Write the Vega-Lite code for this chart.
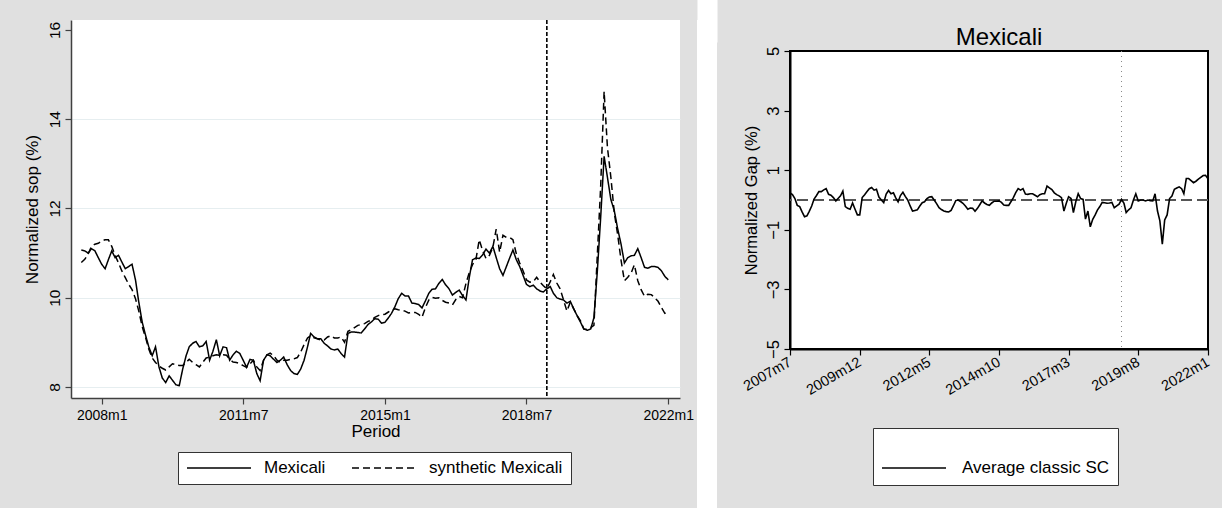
{
  "$schema": "https://vega.github.io/schema/vega-lite/v6.json",
  "background": "#e0e0e0",
  "padding": {"left": 23, "top": 17, "right": 9, "bottom": 0},
  "spacing": 3,
  "resolve": {"legend": {"strokeDash": "independent", "color": "independent"}},
  "config": {
    "font": "Liberation Sans",
    "view": {"stroke": null},
    "axis": {"labelFont": "Liberation Sans", "titleFont": "Liberation Sans", "titleFontWeight": "normal", "labelColor": "black", "titleColor": "black", "labelFlush": false, "labelOverlap": false},
    "legend": {"labelFont": "Liberation Sans", "titleFont": "Liberation Sans", "labelColor": "black"},
    "title": {"font": "Liberation Sans", "fontWeight": "normal", "color": "black"}
  },
  "datasets": {
    "sc": [
      {"date": "2007-07", "Mexicali": 11.07, "synthetic Mexicali": 10.79, "gap": 0.24},
      {"date": "2007-08", "Mexicali": 11.05, "synthetic Mexicali": 10.86, "gap": 0.18},
      {"date": "2007-09", "Mexicali": 11.0, "synthetic Mexicali": 10.98, "gap": 0.05},
      {"date": "2007-10", "Mexicali": 11.1, "synthetic Mexicali": 11.15, "gap": -0.18},
      {"date": "2007-11", "Mexicali": 11.05, "synthetic Mexicali": 11.2, "gap": -0.22},
      {"date": "2007-12", "Mexicali": 10.9, "synthetic Mexicali": 11.22, "gap": -0.4},
      {"date": "2008-01", "Mexicali": 10.75, "synthetic Mexicali": 11.27, "gap": -0.56},
      {"date": "2008-02", "Mexicali": 10.65, "synthetic Mexicali": 11.3, "gap": -0.53},
      {"date": "2008-03", "Mexicali": 10.85, "synthetic Mexicali": 11.3, "gap": -0.38},
      {"date": "2008-04", "Mexicali": 11.05, "synthetic Mexicali": 11.15, "gap": -0.2},
      {"date": "2008-05", "Mexicali": 10.9, "synthetic Mexicali": 10.95, "gap": 0.03},
      {"date": "2008-06", "Mexicali": 10.95, "synthetic Mexicali": 10.78, "gap": 0.15},
      {"date": "2008-07", "Mexicali": 10.8, "synthetic Mexicali": 10.6, "gap": 0.28},
      {"date": "2008-08", "Mexicali": 10.65, "synthetic Mexicali": 10.45, "gap": 0.28},
      {"date": "2008-09", "Mexicali": 10.7, "synthetic Mexicali": 10.3, "gap": 0.34},
      {"date": "2008-10", "Mexicali": 10.75, "synthetic Mexicali": 10.18, "gap": 0.38},
      {"date": "2008-11", "Mexicali": 10.4, "synthetic Mexicali": 9.98, "gap": 0.19},
      {"date": "2008-12", "Mexicali": 9.9, "synthetic Mexicali": 9.7, "gap": 0.16},
      {"date": "2009-01", "Mexicali": 9.45, "synthetic Mexicali": 9.35, "gap": 0.08},
      {"date": "2009-02", "Mexicali": 9.15, "synthetic Mexicali": 9.1, "gap": -0.03},
      {"date": "2009-03", "Mexicali": 8.9, "synthetic Mexicali": 8.85, "gap": 0.05},
      {"date": "2009-04", "Mexicali": 8.7, "synthetic Mexicali": 8.65, "gap": 0.14},
      {"date": "2009-05", "Mexicali": 8.9, "synthetic Mexicali": 8.55, "gap": 0.3},
      {"date": "2009-06", "Mexicali": 8.45, "synthetic Mexicali": 8.47, "gap": -0.22},
      {"date": "2009-07", "Mexicali": 8.2, "synthetic Mexicali": 8.42, "gap": -0.28},
      {"date": "2009-08", "Mexicali": 8.1, "synthetic Mexicali": 8.38, "gap": -0.31},
      {"date": "2009-09", "Mexicali": 8.25, "synthetic Mexicali": 8.45, "gap": -0.1},
      {"date": "2009-10", "Mexicali": 8.15, "synthetic Mexicali": 8.52, "gap": -0.3},
      {"date": "2009-11", "Mexicali": 8.05, "synthetic Mexicali": 8.5, "gap": -0.5},
      {"date": "2009-12", "Mexicali": 8.03, "synthetic Mexicali": 8.48, "gap": -0.5},
      {"date": "2010-01", "Mexicali": 8.4, "synthetic Mexicali": 8.48, "gap": 0.08},
      {"date": "2010-02", "Mexicali": 8.7, "synthetic Mexicali": 8.55, "gap": 0.18},
      {"date": "2010-03", "Mexicali": 8.9, "synthetic Mexicali": 8.62, "gap": 0.28},
      {"date": "2010-04", "Mexicali": 8.98, "synthetic Mexicali": 8.55, "gap": 0.38},
      {"date": "2010-05", "Mexicali": 9.02, "synthetic Mexicali": 8.5, "gap": 0.42},
      {"date": "2010-06", "Mexicali": 8.9, "synthetic Mexicali": 8.45, "gap": 0.33},
      {"date": "2010-07", "Mexicali": 8.92, "synthetic Mexicali": 8.55, "gap": 0.36},
      {"date": "2010-08", "Mexicali": 9.02, "synthetic Mexicali": 8.65, "gap": 0.1},
      {"date": "2010-09", "Mexicali": 8.6, "synthetic Mexicali": 8.67, "gap": 0.0},
      {"date": "2010-10", "Mexicali": 8.8, "synthetic Mexicali": 8.7, "gap": -0.09},
      {"date": "2010-11", "Mexicali": 9.06, "synthetic Mexicali": 8.72, "gap": 0.2},
      {"date": "2010-12", "Mexicali": 8.7, "synthetic Mexicali": 8.71, "gap": 0.32},
      {"date": "2011-01", "Mexicali": 8.9, "synthetic Mexicali": 8.72, "gap": 0.21},
      {"date": "2011-02", "Mexicali": 8.88, "synthetic Mexicali": 8.71, "gap": 0.24},
      {"date": "2011-03", "Mexicali": 8.6, "synthetic Mexicali": 8.62, "gap": 0.08},
      {"date": "2011-04", "Mexicali": 8.72, "synthetic Mexicali": 8.56, "gap": -0.06},
      {"date": "2011-05", "Mexicali": 8.8, "synthetic Mexicali": 8.55, "gap": 0.15},
      {"date": "2011-06", "Mexicali": 8.75, "synthetic Mexicali": 8.52, "gap": 0.26},
      {"date": "2011-07", "Mexicali": 8.6, "synthetic Mexicali": 8.48, "gap": 0.12},
      {"date": "2011-08", "Mexicali": 8.44, "synthetic Mexicali": 8.44, "gap": 0.0},
      {"date": "2011-09", "Mexicali": 8.62, "synthetic Mexicali": 8.52, "gap": -0.2},
      {"date": "2011-10", "Mexicali": 8.6, "synthetic Mexicali": 8.6, "gap": -0.37},
      {"date": "2011-11", "Mexicali": 8.3, "synthetic Mexicali": 8.45, "gap": -0.35},
      {"date": "2011-12", "Mexicali": 8.14, "synthetic Mexicali": 8.37, "gap": -0.33},
      {"date": "2012-01", "Mexicali": 8.6, "synthetic Mexicali": 8.6, "gap": -0.2},
      {"date": "2012-02", "Mexicali": 8.72, "synthetic Mexicali": 8.72, "gap": -0.09},
      {"date": "2012-03", "Mexicali": 8.7, "synthetic Mexicali": 8.76, "gap": -0.06},
      {"date": "2012-04", "Mexicali": 8.62, "synthetic Mexicali": 8.7, "gap": 0.05},
      {"date": "2012-05", "Mexicali": 8.55, "synthetic Mexicali": 8.6, "gap": 0.1},
      {"date": "2012-06", "Mexicali": 8.6, "synthetic Mexicali": 8.55, "gap": 0.11},
      {"date": "2012-07", "Mexicali": 8.67, "synthetic Mexicali": 8.6, "gap": 0.0},
      {"date": "2012-08", "Mexicali": 8.5, "synthetic Mexicali": 8.6, "gap": -0.12},
      {"date": "2012-09", "Mexicali": 8.37, "synthetic Mexicali": 8.62, "gap": -0.26},
      {"date": "2012-10", "Mexicali": 8.3, "synthetic Mexicali": 8.63, "gap": -0.32},
      {"date": "2012-11", "Mexicali": 8.28, "synthetic Mexicali": 8.66, "gap": -0.37},
      {"date": "2012-12", "Mexicali": 8.4, "synthetic Mexicali": 8.78, "gap": -0.39},
      {"date": "2013-01", "Mexicali": 8.6, "synthetic Mexicali": 8.95, "gap": -0.4},
      {"date": "2013-02", "Mexicali": 8.9, "synthetic Mexicali": 9.1, "gap": -0.35},
      {"date": "2013-03", "Mexicali": 9.2, "synthetic Mexicali": 9.15, "gap": -0.2},
      {"date": "2013-04", "Mexicali": 9.12, "synthetic Mexicali": 9.1, "gap": -0.02},
      {"date": "2013-05", "Mexicali": 9.08, "synthetic Mexicali": 9.08, "gap": 0.0},
      {"date": "2013-06", "Mexicali": 9.08, "synthetic Mexicali": 9.05, "gap": -0.05},
      {"date": "2013-07", "Mexicali": 8.98, "synthetic Mexicali": 9.05, "gap": -0.11},
      {"date": "2013-08", "Mexicali": 8.92, "synthetic Mexicali": 9.12, "gap": -0.2},
      {"date": "2013-09", "Mexicali": 8.85, "synthetic Mexicali": 9.15, "gap": -0.31},
      {"date": "2013-10", "Mexicali": 8.83, "synthetic Mexicali": 9.1, "gap": -0.27},
      {"date": "2013-11", "Mexicali": 8.85, "synthetic Mexicali": 9.1, "gap": -0.28},
      {"date": "2013-12", "Mexicali": 8.75, "synthetic Mexicali": 9.12, "gap": -0.38},
      {"date": "2014-01", "Mexicali": 8.67, "synthetic Mexicali": 9.0, "gap": -0.28},
      {"date": "2014-02", "Mexicali": 9.2, "synthetic Mexicali": 9.25, "gap": -0.15},
      {"date": "2014-03", "Mexicali": 9.23, "synthetic Mexicali": 9.28, "gap": -0.03},
      {"date": "2014-04", "Mexicali": 9.23, "synthetic Mexicali": 9.33, "gap": -0.1},
      {"date": "2014-05", "Mexicali": 9.22, "synthetic Mexicali": 9.38, "gap": -0.15},
      {"date": "2014-06", "Mexicali": 9.21, "synthetic Mexicali": 9.4, "gap": -0.18},
      {"date": "2014-07", "Mexicali": 9.3, "synthetic Mexicali": 9.42, "gap": -0.1},
      {"date": "2014-08", "Mexicali": 9.4, "synthetic Mexicali": 9.47, "gap": -0.04},
      {"date": "2014-09", "Mexicali": 9.46, "synthetic Mexicali": 9.5, "gap": -0.04},
      {"date": "2014-10", "Mexicali": 9.53, "synthetic Mexicali": 9.56, "gap": -0.03},
      {"date": "2014-11", "Mexicali": 9.52, "synthetic Mexicali": 9.6, "gap": -0.08},
      {"date": "2014-12", "Mexicali": 9.43, "synthetic Mexicali": 9.62, "gap": -0.17},
      {"date": "2015-01", "Mexicali": 9.45, "synthetic Mexicali": 9.63, "gap": -0.18},
      {"date": "2015-02", "Mexicali": 9.55, "synthetic Mexicali": 9.68, "gap": -0.18},
      {"date": "2015-03", "Mexicali": 9.65, "synthetic Mexicali": 9.72, "gap": -0.06},
      {"date": "2015-04", "Mexicali": 9.8, "synthetic Mexicali": 9.75, "gap": 0.08},
      {"date": "2015-05", "Mexicali": 9.98, "synthetic Mexicali": 9.73, "gap": 0.25},
      {"date": "2015-06", "Mexicali": 10.1, "synthetic Mexicali": 9.72, "gap": 0.38},
      {"date": "2015-07", "Mexicali": 10.04, "synthetic Mexicali": 9.7, "gap": 0.33},
      {"date": "2015-08", "Mexicali": 10.04, "synthetic Mexicali": 9.66, "gap": 0.38},
      {"date": "2015-09", "Mexicali": 9.88, "synthetic Mexicali": 9.67, "gap": 0.2},
      {"date": "2015-10", "Mexicali": 9.87, "synthetic Mexicali": 9.67, "gap": 0.19},
      {"date": "2015-11", "Mexicali": 9.85, "synthetic Mexicali": 9.63, "gap": 0.21},
      {"date": "2015-12", "Mexicali": 9.77, "synthetic Mexicali": 9.56, "gap": 0.21},
      {"date": "2016-01", "Mexicali": 9.93, "synthetic Mexicali": 9.78, "gap": 0.16},
      {"date": "2016-02", "Mexicali": 10.1, "synthetic Mexicali": 9.95, "gap": 0.11},
      {"date": "2016-03", "Mexicali": 10.19, "synthetic Mexicali": 10.01, "gap": 0.18},
      {"date": "2016-04", "Mexicali": 10.2, "synthetic Mexicali": 9.99, "gap": 0.21},
      {"date": "2016-05", "Mexicali": 10.32, "synthetic Mexicali": 10.0, "gap": 0.21},
      {"date": "2016-06", "Mexicali": 10.41, "synthetic Mexicali": 9.94, "gap": 0.47},
      {"date": "2016-07", "Mexicali": 10.29, "synthetic Mexicali": 9.9, "gap": 0.41},
      {"date": "2016-08", "Mexicali": 10.2, "synthetic Mexicali": 9.88, "gap": 0.35},
      {"date": "2016-09", "Mexicali": 10.06, "synthetic Mexicali": 9.84, "gap": 0.24},
      {"date": "2016-10", "Mexicali": 10.12, "synthetic Mexicali": 9.96, "gap": 0.18},
      {"date": "2016-11", "Mexicali": 10.17, "synthetic Mexicali": 10.03, "gap": 0.14},
      {"date": "2016-12", "Mexicali": 10.05, "synthetic Mexicali": 10.0, "gap": 0.08},
      {"date": "2017-01", "Mexicali": 9.95, "synthetic Mexicali": 10.32, "gap": -0.37},
      {"date": "2017-02", "Mexicali": 10.47, "synthetic Mexicali": 10.57, "gap": -0.1},
      {"date": "2017-03", "Mexicali": 10.85, "synthetic Mexicali": 10.74, "gap": 0.11},
      {"date": "2017-04", "Mexicali": 10.89, "synthetic Mexicali": 10.86, "gap": 0.05},
      {"date": "2017-05", "Mexicali": 10.88, "synthetic Mexicali": 11.3, "gap": -0.42},
      {"date": "2017-06", "Mexicali": 10.96, "synthetic Mexicali": 11.05, "gap": -0.05},
      {"date": "2017-07", "Mexicali": 11.09, "synthetic Mexicali": 10.88, "gap": 0.21},
      {"date": "2017-08", "Mexicali": 11.0, "synthetic Mexicali": 10.95, "gap": 0.05},
      {"date": "2017-09", "Mexicali": 11.15, "synthetic Mexicali": 11.13, "gap": 0.02},
      {"date": "2017-10", "Mexicali": 10.9, "synthetic Mexicali": 11.54, "gap": -0.64},
      {"date": "2017-11", "Mexicali": 10.65, "synthetic Mexicali": 11.02, "gap": -0.37},
      {"date": "2017-12", "Mexicali": 10.5, "synthetic Mexicali": 11.4, "gap": -0.9},
      {"date": "2018-01", "Mexicali": 10.7, "synthetic Mexicali": 11.35, "gap": -0.65},
      {"date": "2018-02", "Mexicali": 10.9, "synthetic Mexicali": 11.35, "gap": -0.5},
      {"date": "2018-03", "Mexicali": 11.07, "synthetic Mexicali": 11.3, "gap": -0.34},
      {"date": "2018-04", "Mexicali": 10.85, "synthetic Mexicali": 10.98, "gap": -0.22},
      {"date": "2018-05", "Mexicali": 10.7, "synthetic Mexicali": 10.78, "gap": -0.08},
      {"date": "2018-06", "Mexicali": 10.5, "synthetic Mexicali": 10.6, "gap": -0.09},
      {"date": "2018-07", "Mexicali": 10.3, "synthetic Mexicali": 10.4, "gap": -0.11},
      {"date": "2018-08", "Mexicali": 10.25, "synthetic Mexicali": 10.35, "gap": -0.1},
      {"date": "2018-09", "Mexicali": 10.28, "synthetic Mexicali": 10.36, "gap": -0.08},
      {"date": "2018-10", "Mexicali": 10.2, "synthetic Mexicali": 10.46, "gap": -0.26},
      {"date": "2018-11", "Mexicali": 10.15, "synthetic Mexicali": 10.35, "gap": -0.2},
      {"date": "2018-12", "Mexicali": 10.13, "synthetic Mexicali": 10.27, "gap": -0.14},
      {"date": "2019-01", "Mexicali": 10.2, "synthetic Mexicali": 10.2, "gap": 0.02},
      {"date": "2019-02", "Mexicali": 10.25, "synthetic Mexicali": 10.36, "gap": -0.11},
      {"date": "2019-03", "Mexicali": 10.1, "synthetic Mexicali": 10.52, "gap": -0.42},
      {"date": "2019-04", "Mexicali": 10.0, "synthetic Mexicali": 10.33, "gap": -0.33},
      {"date": "2019-05", "Mexicali": 9.97, "synthetic Mexicali": 10.2, "gap": -0.26},
      {"date": "2019-06", "Mexicali": 9.95, "synthetic Mexicali": 9.95, "gap": 0.0},
      {"date": "2019-07", "Mexicali": 9.88, "synthetic Mexicali": 9.7, "gap": 0.21},
      {"date": "2019-08", "Mexicali": 9.92, "synthetic Mexicali": 9.9, "gap": -0.03},
      {"date": "2019-09", "Mexicali": 9.75, "synthetic Mexicali": 9.75, "gap": 0.0},
      {"date": "2019-10", "Mexicali": 9.6, "synthetic Mexicali": 9.6, "gap": 0.0},
      {"date": "2019-11", "Mexicali": 9.45, "synthetic Mexicali": 9.48, "gap": -0.03},
      {"date": "2019-12", "Mexicali": 9.3, "synthetic Mexicali": 9.3, "gap": 0.0},
      {"date": "2020-01", "Mexicali": 9.27, "synthetic Mexicali": 9.29, "gap": -0.02},
      {"date": "2020-02", "Mexicali": 9.3, "synthetic Mexicali": 9.33, "gap": -0.03},
      {"date": "2020-03", "Mexicali": 9.55, "synthetic Mexicali": 9.38, "gap": 0.21},
      {"date": "2020-04", "Mexicali": 10.6, "synthetic Mexicali": 10.97, "gap": -0.37},
      {"date": "2020-05", "Mexicali": 11.8, "synthetic Mexicali": 12.5, "gap": -0.7},
      {"date": "2020-06", "Mexicali": 13.17, "synthetic Mexicali": 14.62, "gap": -1.48},
      {"date": "2020-07", "Mexicali": 12.7, "synthetic Mexicali": 13.37, "gap": -0.67},
      {"date": "2020-08", "Mexicali": 12.2, "synthetic Mexicali": 12.7, "gap": -0.5},
      {"date": "2020-09", "Mexicali": 11.95, "synthetic Mexicali": 11.9, "gap": 0.05},
      {"date": "2020-10", "Mexicali": 11.55, "synthetic Mexicali": 11.42, "gap": 0.13},
      {"date": "2020-11", "Mexicali": 11.2, "synthetic Mexicali": 10.84, "gap": 0.36},
      {"date": "2020-12", "Mexicali": 10.78, "synthetic Mexicali": 10.38, "gap": 0.4},
      {"date": "2021-01", "Mexicali": 10.9, "synthetic Mexicali": 10.46, "gap": 0.44},
      {"date": "2021-02", "Mexicali": 10.94, "synthetic Mexicali": 10.56, "gap": 0.38},
      {"date": "2021-03", "Mexicali": 10.95, "synthetic Mexicali": 10.74, "gap": 0.21},
      {"date": "2021-04", "Mexicali": 11.1, "synthetic Mexicali": 10.38, "gap": 0.72},
      {"date": "2021-05", "Mexicali": 10.9, "synthetic Mexicali": 10.18, "gap": 0.72},
      {"date": "2021-06", "Mexicali": 10.68, "synthetic Mexicali": 10.03, "gap": 0.65},
      {"date": "2021-07", "Mexicali": 10.66, "synthetic Mexicali": 10.08, "gap": 0.58},
      {"date": "2021-08", "Mexicali": 10.7, "synthetic Mexicali": 10.07, "gap": 0.63},
      {"date": "2021-09", "Mexicali": 10.7, "synthetic Mexicali": 10.0, "gap": 0.7},
      {"date": "2021-10", "Mexicali": 10.68, "synthetic Mexicali": 9.92, "gap": 0.76},
      {"date": "2021-11", "Mexicali": 10.6, "synthetic Mexicali": 9.78, "gap": 0.82},
      {"date": "2021-12", "Mexicali": 10.48, "synthetic Mexicali": 9.65, "gap": 0.83},
      {"date": "2022-01", "Mexicali": 10.4, "synthetic Mexicali": 9.69, "gap": 0.71}
    ]
  },
  "hconcat": [
    {
      "width": 609,
      "height": 378,
      "view": {"fill": "white", "stroke": null},
      "data": {"name": "sc"},
      "layer": [
        {
          "transform": [{"fold": ["Mexicali", "synthetic Mexicali"], "as": ["series", "value"]}],
          "mark": {"type": "line", "strokeWidth": 1.5, "color": "black"},
          "encoding": {
            "x": {
              "field": "date", "type": "temporal",
              "scale": {"type": "utc", "domain": [{"year": 2007, "month": 3, "date": 30, "utc": true}, {"year": 2022, "month": 4, "date": 17, "utc": true}]},
              "axis": {
                "values": [{"year": 2008, "month": 1, "date": 1, "utc": true}, {"year": 2011, "month": 7, "date": 1, "utc": true}, {"year": 2015, "month": 1, "date": 1, "utc": true}, {"year": 2018, "month": 7, "date": 1, "utc": true}, {"year": 2022, "month": 1, "date": 1, "utc": true}],
                "labelExpr": "utcFormat(datum.value, '%Y') + 'm' + (utcmonth(datum.value) + 1)",
                "title": "Period", "titleFontSize": 17, "titlePadding": 1,
                "labelFontSize": 14, "labelPadding": 4, "tickSize": 6, "grid": false,
                "domainColor": "#404040", "tickColor": "#404040", "domainWidth": 1.5, "tickWidth": 1.2
              }
            },
            "y": {
              "field": "value", "type": "quantitative",
              "scale": {"domain": [7.753, 16.224], "zero": false, "nice": false},
              "axis": {
                "values": [8, 10, 12, 14, 16], "labelAngle": -90,
                "title": "Normalized sop (%)", "titleFontSize": 17, "titlePadding": 6,
                "labelFontSize": 15.5, "labelPadding": 3, "tickSize": 6,
                "grid": true, "gridColor": "#e6eef0", "gridWidth": 1.2,
                "gridOpacity": {"condition": {"test": "datum.value == 16", "value": 0}, "value": 1},
                "domainColor": "#404040", "tickColor": "#404040", "domainWidth": 1.5, "tickWidth": 1.2
              }
            },
            "strokeDash": {
              "field": "series", "type": "nominal",
              "scale": {"domain": ["Mexicali", "synthetic Mexicali"], "range": [[1, 0], [7, 4]]},
              "legend": {
                "orient": "none", "legendX": 107, "legendY": 432, "direction": "horizontal", "columns": 2,
                "title": null, "fillColor": "white", "strokeColor": "#333333", "padding": 8,
                "symbolType": "stroke", "symbolSize": 4096, "symbolStrokeWidth": 1.5, "symbolStrokeColor": "black",
                "labelFontSize": 17, "labelOffset": 12, "columnPadding": 25, "clipHeight": 16
              }
            }
          }
        },
        {
          "data": {"values": [{"date": "2019-01"}]},
          "mark": {"type": "rule", "strokeDash": [4, 2], "strokeWidth": 1.6, "color": "black"},
          "encoding": {"x": {"field": "date", "type": "temporal"}}
        }
      ]
    },
    {
      "width": 20,
      "height": 488,
      "view": {"fill": "white", "stroke": null},
      "data": {"values": [{"v": 0}]},
      "mark": {"type": "point", "opacity": 0},
      "encoding": {
        "x": {"field": "v", "type": "quantitative", "axis": {"orient": "top", "labels": false, "ticks": false, "title": null, "grid": false, "domainColor": "white", "domainWidth": 44}},
        "y": {"field": "v", "type": "quantitative", "axis": {"orient": "right", "labels": false, "ticks": false, "title": null, "grid": false, "domainColor": "#e0e0e0", "domainWidth": 1, "offset": 19}}
      }
    },
    {
      "spacing": 1,
      "resolve": {"legend": {"color": "independent"}},
      "vconcat": [
        {
          "width": 418,
          "height": 1,
          "data": {"values": [{}]},
          "mark": {"type": "point", "opacity": 0},
          "encoding": {}
        },
        {
          "width": 418,
          "height": 298,
          "title": {"text": "Mexicali", "fontSize": 24, "offset": -4},
          "view": {"fill": "white", "stroke": "black", "strokeWidth": 2},
          "data": {"name": "sc"},
          "layer": [
            {
              "data": {"values": [{"gap": 0}]},
              "mark": {"type": "rule", "color": "#555555", "strokeDash": [11, 5], "strokeWidth": 1.8},
              "encoding": {"y": {"field": "gap", "type": "quantitative"}}
            },
            {
              "data": {"values": [{"date": "2019-01"}]},
              "mark": {"type": "rule", "color": "#888888", "strokeDash": [1, 4], "strokeWidth": 1},
              "encoding": {"x": {"field": "date", "type": "temporal"}}
            },
            {
              "mark": {"type": "line", "strokeWidth": 1.6},
              "encoding": {
                "x": {
                  "field": "date", "type": "temporal",
                  "scale": {"type": "utc", "domain": [{"year": 2007, "month": 7, "date": 1, "utc": true}, {"year": 2022, "month": 1, "date": 1, "utc": true}]},
                  "axis": {
                    "values": [{"year": 2007, "month": 7, "date": 1, "utc": true}, {"year": 2009, "month": 12, "date": 1, "utc": true}, {"year": 2012, "month": 5, "date": 1, "utc": true}, {"year": 2014, "month": 10, "date": 1, "utc": true}, {"year": 2017, "month": 3, "date": 1, "utc": true}, {"year": 2019, "month": 8, "date": 1, "utc": true}, {"year": 2022, "month": 1, "date": 1, "utc": true}],
                    "labelExpr": "utcFormat(datum.value, '%Y') + 'm' + (utcmonth(datum.value) + 1)",
                    "title": null, "labelAngle": -30, "labelAlign": "right", "labelBaseline": "middle",
                    "labelFontSize": 14.5, "labelPadding": 6, "tickSize": 6, "grid": false,
                    "domainColor": "black", "tickColor": "black", "domainWidth": 2, "tickWidth": 1.2
                  }
                },
                "y": {
                  "field": "gap", "type": "quantitative",
                  "scale": {"domain": [-5, 5], "nice": false},
                  "axis": {
                    "values": [-5, -3, -1, 1, 3, 5], "labelAngle": -90,
                    "title": "Normalized Gap (%)", "titleFontSize": 16.5, "titlePadding": 6,
                    "labelFontSize": 16.5, "labelPadding": 3, "tickSize": 6, "grid": false,
                    "domainColor": "black", "tickColor": "black", "domainWidth": 2, "tickWidth": 1.2
                  }
                },
                "color": {
                  "datum": "Average classic SC",
                  "scale": {"range": ["black"]},
                  "legend": {
                    "orient": "none", "legendX": 83, "legendY": 377,
                    "title": " ", "titleFontSize": 17, "titlePadding": 6,
                    "fillColor": "white", "strokeColor": "#333333", "padding": 8,
                    "symbolType": "stroke", "symbolSize": 4096, "symbolStrokeWidth": 1.5,
                    "labelFontSize": 17, "labelOffset": 15, "clipHeight": 18
                  }
                }
              }
            }
          ]
        }
      ]
    }
  ]
}
